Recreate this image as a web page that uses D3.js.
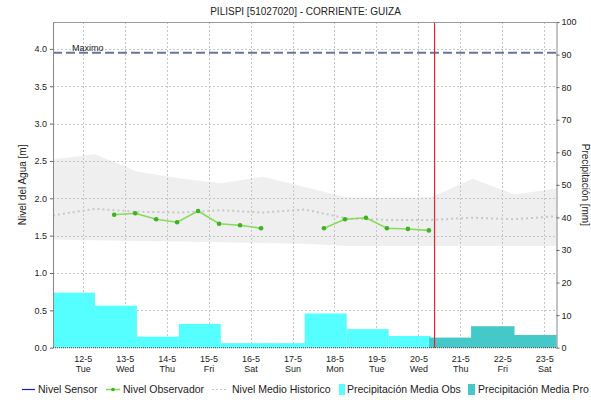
<!DOCTYPE html>
<html>
<head>
<meta charset="utf-8">
<script src="https://cdn.jsdelivr.net/npm/d3@7"></script>
<style>
  body { margin: 0; background: #fff; }
  svg { display: block; font-family: "Liberation Sans", Arial, sans-serif; }
</style>
</head>
<body>
<svg id="chart" width="591" height="402"></svg>
<script>
// Station and period
const chartTitle = "PILISPI [51027020] - CORRIENTE: GUIZA";
const periodStart = "2020-05-11T07:00";
const periodEnd = "2020-05-23T07:00";
const currentTime = "2020-05-20T09:15";
const maxLevel = 3.95;

// Day ticks
const tickDates = ["2020-05-12","2020-05-13","2020-05-14","2020-05-15","2020-05-16","2020-05-17",
                   "2020-05-18","2020-05-19","2020-05-20","2020-05-21","2020-05-22","2020-05-23"];
const tickLabels = ["12-5","13-5","14-5","15-5","16-5","17-5","18-5","19-5","20-5","21-5","22-5","23-5"];
const tickWeekdays = ["Tue","Wed","Thu","Fri","Sat","Sun","Mon","Tue","Wed","Thu","Fri","Sat"];
const levelTicks = [0, 0.5, 1, 1.5, 2, 2.5, 3, 3.5, 4];
const rainTicks = [0, 10, 20, 30, 40, 50, 60, 70, 80, 90, 100];

// Daily precipitation (07:00 to 07:00), mm
const obsRainDays = ["2020-05-11","2020-05-12","2020-05-13","2020-05-14","2020-05-15",
                     "2020-05-16","2020-05-17","2020-05-18","2020-05-19"];
const obsRainValues = [16.9, 12.9, 3.4, 7.3, 1.4, 1.4, 10.5, 5.7, 3.6];
const forecastRainDays = ["2020-05-20","2020-05-21","2020-05-22"];
const forecastRainValues = [3.1, 6.6, 3.9];

// Observer readings (m); null marks missing readings
const observerTimes = ["2020-05-12T18:00","2020-05-13T06:00","2020-05-13T18:00","2020-05-14T06:00",
                       "2020-05-14T18:00","2020-05-15T06:00","2020-05-15T18:00","2020-05-16T06:00",
                       "2020-05-16T18:00","2020-05-17T06:00",
                       "2020-05-17T18:00","2020-05-18T06:00","2020-05-18T18:00","2020-05-19T06:00",
                       "2020-05-19T18:00","2020-05-20T06:00"];
const observerLevels = [1.78, 1.80, 1.72, 1.68, 1.83, 1.66, 1.64, 1.60,
                        null, null,
                        1.60, 1.72, 1.74, 1.60, 1.59, 1.57];

// Historic level: mean and range (m)
const histTimes = ["2020-05-11T07:00","2020-05-12T07:00","2020-05-13T07:00","2020-05-14T07:00",
                   "2020-05-15T07:00","2020-05-16T07:00","2020-05-17T07:00","2020-05-18T07:00",
                   "2020-05-19T07:00","2020-05-20T07:00","2020-05-21T07:00","2020-05-22T07:00",
                   "2020-05-23T07:00"];
const histMean  = [1.77, 1.86, 1.82, 1.81, 1.84, 1.81, 1.85, 1.73, 1.71, 1.71, 1.74, 1.72, 1.76];
const histUpper = [2.52, 2.59, 2.36, 2.27, 2.20, 2.29, 2.15, 2.01, 2.01, 2.01, 2.26, 2.05, 2.13];
const histLower = [1.45, 1.44, 1.43, 1.42, 1.41, 1.40, 1.39, 1.36, 1.36, 1.36, 1.36, 1.36, 1.36];

const parseT = d3.utcParse("%Y-%m-%dT%H:%M");
const parseD = d3.utcParse("%Y-%m-%d");
const at7 = s => d3.utcHour.offset(parseD(s), 7);

const m = { left: 53, right: 556.5, top: 22, bottom: 347.7 };
const svg = d3.select("#chart");

const x = d3.scaleUtc().domain([parseT(periodStart), parseT(periodEnd)]).range([m.left, m.right]);
const yL = d3.scaleLinear().domain([0, 4.36]).range([m.bottom, m.top]);
const yR = d3.scaleLinear().domain([0, 100]).range([m.bottom, m.top]);

// Historic range band
const hist = histTimes.map((t, i) => ({ t: parseT(t), mean: histMean[i], hi: histUpper[i], lo: histLower[i] }));
svg.append("path")
  .datum(hist)
  .attr("fill", "#efefef")
  .attr("d", d3.area().x(d => x(d.t)).y0(d => yL(d.lo)).y1(d => yL(d.hi)));

// Grid
const grid = svg.append("g").attr("stroke", "#c4c4c4").attr("stroke-dasharray", "2,2").attr("stroke-width", 1);
grid.selectAll("line.v").data(tickDates).join("line")
  .attr("x1", d => Math.round(x(parseD(d))) + 0.5).attr("x2", d => Math.round(x(parseD(d))) + 0.5)
  .attr("y1", m.top).attr("y2", m.bottom);
grid.selectAll("line.h").data(levelTicks.filter(v => v > 0)).join("line")
  .attr("x1", m.left).attr("x2", m.right)
  .attr("y1", d => Math.round(yL(d)) + 0.5).attr("y2", d => Math.round(yL(d)) + 0.5);

// Historic mean
svg.append("path")
  .datum(hist)
  .attr("fill", "none").attr("stroke", "#c8c8c8").attr("stroke-width", 2).attr("stroke-dasharray", "2,3")
  .attr("d", d3.line().x(d => x(d.t)).y(d => yL(d.mean)));

// Precipitation bars
svg.append("g").selectAll("rect").data(obsRainDays.map((d, i) => ({ d, v: obsRainValues[i] }))).join("rect")
  .attr("x", d => x(at7(d.d)))
  .attr("width", d => x(d3.utcDay.offset(at7(d.d), 1)) - x(at7(d.d)))
  .attr("y", d => yR(d.v))
  .attr("height", d => yR(0) - yR(d.v))
  .attr("fill", "#55ffff");
svg.append("g").selectAll("rect").data(forecastRainDays.map((d, i) => ({ d, v: forecastRainValues[i] }))).join("rect")
  .attr("x", d => x(at7(d.d)) - 1.5)
  .attr("width", d => x(d3.utcDay.offset(at7(d.d), 1)) - x(at7(d.d)) + 1.5)
  .attr("y", d => yR(d.v))
  .attr("height", d => yR(0) - yR(d.v))
  .attr("fill", "#44c8c8");

// Observer level
const obs = observerTimes.map((t, i) => ({ t: parseT(t), v: observerLevels[i] }));
svg.append("path")
  .datum(obs)
  .attr("fill", "none").attr("stroke", "#86dc5a").attr("stroke-width", 1.6)
  .attr("d", d3.line().defined(d => d.v != null).x(d => x(d.t)).y(d => yL(d.v)));
svg.append("g").selectAll("circle").data(obs.filter(d => d.v != null)).join("circle")
  .attr("cx", d => x(d.t)).attr("cy", d => yL(d.v))
  .attr("r", 2.3).attr("fill", "#3cb41e");

// Maximum level
svg.append("line")
  .attr("x1", m.left).attr("x2", m.right)
  .attr("y1", yL(maxLevel)).attr("y2", yL(maxLevel))
  .attr("stroke", "#6674a4").attr("stroke-width", 2).attr("stroke-dasharray", "9,4");
svg.append("text")
  .attr("x", 72).attr("y", yL(maxLevel) - 2)
  .attr("font-size", 9).attr("fill", "#222").text("Maximo");

// Current time marker
svg.append("line")
  .attr("x1", x(parseT(currentTime))).attr("x2", x(parseT(currentTime)))
  .attr("y1", m.top).attr("y2", m.bottom)
  .attr("stroke", "#e0282c").attr("stroke-width", 1.2);

// Top border
svg.append("line").attr("x1", m.left).attr("x2", m.right).attr("y1", m.top + 0.5).attr("y2", m.top + 0.5)
  .attr("stroke", "#999");

// Left axis
const axL = svg.append("g").attr("transform", `translate(${m.left},0)`)
  .call(d3.axisLeft(yL).tickValues(levelTicks).tickFormat(d3.format(".1f")).tickSize(3).tickSizeOuter(0).tickPadding(3));
axL.select(".domain").attr("stroke", "#888");
axL.selectAll(".tick line").attr("stroke", "#666");
axL.selectAll("text").attr("font-size", 9).attr("fill", "#222").attr("font-family", "Liberation Sans, Arial, sans-serif");

// Right axis
const axR = svg.append("g").attr("transform", `translate(${m.right},0)`)
  .call(d3.axisRight(yR).tickValues(rainTicks).tickSize(3).tickSizeOuter(0).tickPadding(2));
axR.select(".domain").attr("stroke", "#888");
axR.selectAll(".tick line").attr("stroke", "#666");
axR.selectAll("text").attr("font-size", 9).attr("fill", "#222").attr("font-family", "Liberation Sans, Arial, sans-serif");

// Bottom axis: dotted base line and two-line day labels
svg.append("line").attr("x1", m.left).attr("x2", m.right).attr("y1", m.bottom).attr("y2", m.bottom)
  .attr("stroke", "#444").attr("stroke-dasharray", "1,1");
const axB = svg.append("g").attr("transform", `translate(0,${m.bottom})`)
  .call(d3.axisBottom(x).tickValues(tickDates.map(parseD)).tickSize(0).tickPadding(8)
    .tickFormat((d, i) => tickLabels[i]));
axB.select(".domain").remove();
axB.selectAll("text").attr("font-size", 9).attr("fill", "#222").attr("font-family", "Liberation Sans, Arial, sans-serif");
axB.selectAll(".tick").append("text")
  .attr("y", 18).attr("dy", "0.71em").attr("text-anchor", "middle")
  .attr("font-size", 9).attr("fill", "#222").attr("font-family", "Liberation Sans, Arial, sans-serif")
  .text((d, i) => tickWeekdays[i]);

// Title and axis titles
svg.append("text").attr("x", 305.5).attr("y", 15).attr("text-anchor", "middle")
  .attr("font-size", 10).attr("fill", "#222").text(chartTitle);
svg.append("text").attr("transform", `translate(25.5,${(m.top + m.bottom) / 2}) rotate(-90)`)
  .attr("text-anchor", "middle").attr("font-size", 10).attr("fill", "#222").text("Nivel del Agua [m]");
svg.append("text").attr("transform", `translate(581.5,${(m.top + m.bottom) / 2}) rotate(90)`)
  .attr("text-anchor", "middle").attr("font-size", 10).attr("fill", "#222").text("Precipitación [mm]");

// Legend
const lg = svg.append("g").attr("font-size", 10.5).attr("fill", "#222");
const ly = 389.5, lty = 393;
lg.append("line").attr("x1", 22).attr("x2", 35).attr("y1", ly).attr("y2", ly).attr("stroke", "#1a1adc").attr("stroke-width", 1.2);
lg.append("text").attr("x", 38).attr("y", lty).text("Nivel Sensor");
lg.append("line").attr("x1", 106).attr("x2", 120).attr("y1", ly).attr("y2", ly).attr("stroke", "#86dc5a").attr("stroke-width", 1.6);
lg.append("circle").attr("cx", 113).attr("cy", ly).attr("r", 1.8).attr("fill", "#3cb41e");
lg.append("text").attr("x", 123).attr("y", lty).text("Nivel Observador");
lg.append("line").attr("x1", 212).attr("x2", 228).attr("y1", ly).attr("y2", ly).attr("stroke", "#c8c8c8").attr("stroke-width", 1.2).attr("stroke-dasharray", "2,2");
lg.append("text").attr("x", 232).attr("y", lty).text("Nivel Medio Historico");
lg.append("rect").attr("x", 339).attr("y", 384).attr("width", 6).attr("height", 11).attr("fill", "#55ffff");
lg.append("text").attr("x", 347).attr("y", lty).text("Precipitación Media Obs");
lg.append("rect").attr("x", 468).attr("y", 384).attr("width", 7).attr("height", 11).attr("fill", "#44c8c8");
lg.append("text").attr("x", 478).attr("y", lty).text("Precipitación Media Pro");
</script>
</body>
</html>
